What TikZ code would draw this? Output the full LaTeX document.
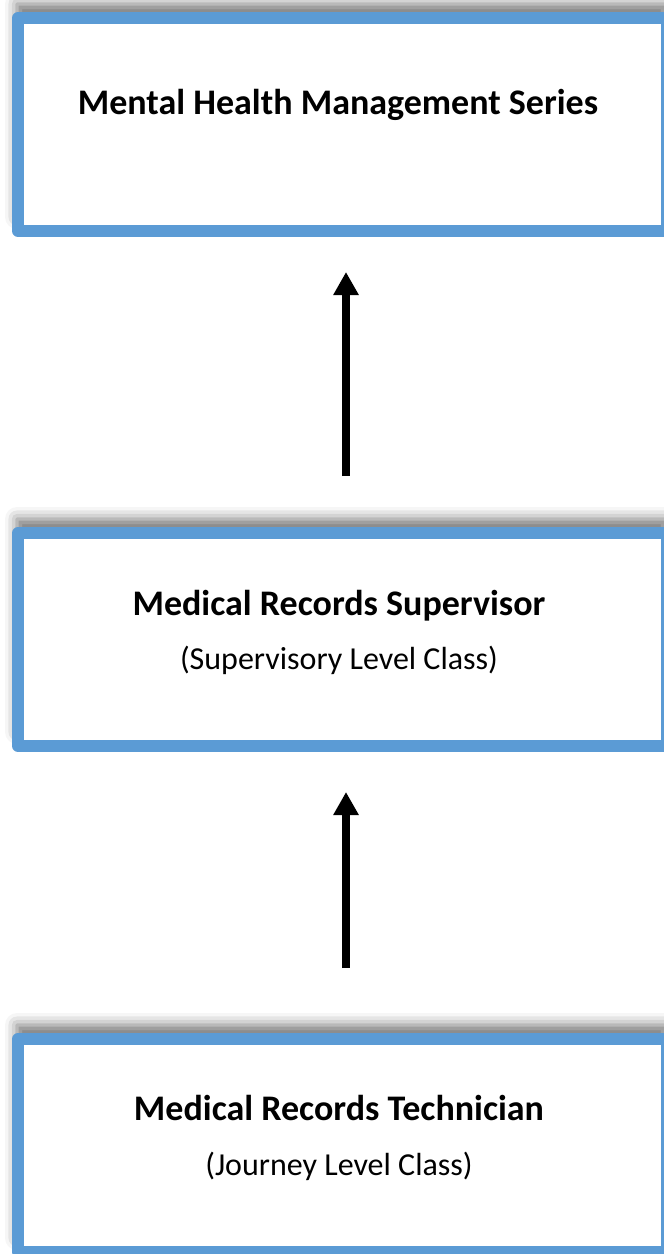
\documentclass[tikz,border=0pt]{standalone}
\usepackage{fontspec}
\setmainfont{Carlito}
\usetikzlibrary{arrows.meta,shadows.blur}
\definecolor{boxblue}{HTML}{5B9BD5}
\begin{document}
\begin{tikzpicture}[x=0.5pt,y=-0.5pt,
  box/.style={draw=boxblue, line width=6pt, fill=white, line join=round,
    minimum width=324.5pt, minimum height=106.5pt, inner sep=0pt,
    blur shadow={shadow xshift=-0.5pt, shadow yshift=7pt, shadow blur radius=6pt, shadow opacity=55}},
  title/.style={font=\bfseries\fontsize{18}{22}\selectfont, anchor=base, inner sep=0pt},
  sub/.style={font=\fontsize{16}{19}\selectfont, anchor=base, inner sep=0pt},
  up/.style={line width=4pt, -{Triangle[width=12pt,length=11.5pt]}}]
\useasboundingbox (0,0) rectangle (664,1254);
\clip (0,0) rectangle (664,1254);
\node[box] (b1) at (342.5,124.5) {};
\node[box] (b2) at (342.5,639.5) {};
\node[box] (b3) at (342.5,1145.5) {};
\node[title] (t1) at (338,114) {Mental Health Management Series};
\node[title] (t2) at (339,615) {Medical Records Supervisor};
\node[sub] (s2) at (339,669) {(Supervisory Level Class)};
\node[title] (t3) at (339,1120) {Medical Records Technician};
\node[sub] (s3) at (339,1175) {(Journey Level Class)};
\coordinate (a1s) at (346,476);
\coordinate (a1e) at (346,272);
\coordinate (a2s) at (346,968);
\coordinate (a2e) at (346,792);
\draw[up] (a1s) -- (a1e);
\draw[up] (a2s) -- (a2e);
\end{tikzpicture}
\end{document}
